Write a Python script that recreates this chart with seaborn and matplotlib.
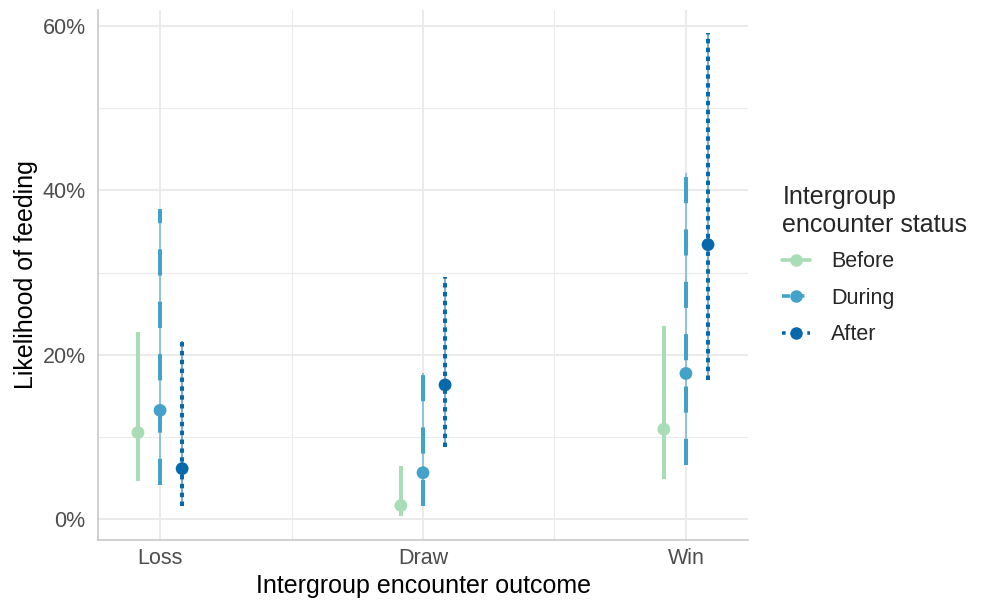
import numpy as np
import pandas as pd
import matplotlib
matplotlib.use("Agg")
import matplotlib.pyplot as plt
import seaborn as sns
from matplotlib.lines import Line2D
from matplotlib.ticker import FuncFormatter, MultipleLocator

# Данные (доли, читаются с картинки)
outcomes = ["Loss", "Draw", "Win"]
statuses = ["Before", "During", "After"]
est_before = [0.105, 0.016, 0.109]
low_before = [0.046, 0.003, 0.048]
high_before = [0.228, 0.064, 0.235]
est_during = [0.132, 0.056, 0.177]
low_during = [0.041, 0.015, 0.066]
high_during = [0.377, 0.178, 0.421]
est_after = [0.061, 0.163, 0.334]
low_after = [0.016, 0.087, 0.169]
high_after = [0.217, 0.294, 0.592]

colors = {"Before": "#a8ddb5", "During": "#43a2ca", "After": "#0868ac"}
dashes = {"Before": "solid", "During": (0, (6.5, 6.5)), "After": (0, (1.1, 1.1))}

rows = []
for s, e, lo, hi in zip(statuses,
                        [est_before, est_during, est_after],
                        [low_before, low_during, low_after],
                        [high_before, high_during, high_after]):
    for o, ev, lv, hv in zip(outcomes, e, lo, hi):
        rows.append({"outcome": o, "status": s, "est": ev, "low": lv, "high": hv})
df = pd.DataFrame(rows)

sns.set_theme(style="whitegrid")
plt.rcParams["font.family"] = ["Liberation Sans", "DejaVu Sans"]

fig, ax = plt.subplots(figsize=(9.84, 6.01), dpi=100)
fig.subplots_adjust(left=98 / 984, right=748 / 984, top=1 - 10 / 601, bottom=1 - 540 / 601)

offset = {"Before": -0.084, "During": 0.0, "After": 0.084}
df["x"] = df["outcome"].map({o: i for i, o in enumerate(outcomes)}) + df["status"].map(offset)

for s in statuses:
    d = df[df["status"] == s]
    ax.vlines(d["x"], d["low"], d["high"], color=colors[s], lw=1.1, alpha=0.7, zorder=2)
    ax.vlines(d["x"], d["low"], d["high"], color=colors[s], lw=2.9,
              linestyles=[dashes[s]], zorder=3)

sns.scatterplot(data=df, x="x", y="est", hue="status", palette=colors,
                s=85, edgecolor="none", legend=False, ax=ax, zorder=4)

ax.set_xlim(-0.236, 2.236)
ax.set_ylim(-0.026, 0.62)
ax.set_xticks(range(len(outcomes)))
ax.set_xticklabels(outcomes)
ax.xaxis.set_minor_locator(MultipleLocator(1, offset=0.5))
ax.yaxis.set_major_locator(MultipleLocator(0.2))
ax.yaxis.set_minor_locator(MultipleLocator(0.1, offset=0.1))
ax.yaxis.set_major_formatter(FuncFormatter(lambda v, p: f"{v * 100:.0f}%"))

ax.grid(which="major", color="#ebebeb", lw=1.4)
ax.grid(which="minor", color="#ebebeb", lw=0.8)
ax.set_axisbelow(True)
for side in ["top", "right"]:
    ax.spines[side].set_visible(False)
for side in ["left", "bottom"]:
    ax.spines[side].set_color("#c8c8c8")
    ax.spines[side].set_linewidth(1.2)
ax.tick_params(which="both", length=0, labelsize=15.5, labelcolor="#4d4d4d")
ax.tick_params(axis="y", pad=9)
ax.tick_params(axis="x", pad=6)

ax.set_xlabel("Intergroup encounter outcome", fontsize=18, color="black", labelpad=3)
ax.set_ylabel("Likelihood of feeding", fontsize=18, color="black", labelpad=3)

handles = [Line2D([0], [0], color=colors[s], lw=2.6, linestyle=dashes[s] if s != "During" else (0, (2.2, 1.8)),
                  marker="o", markersize=9, markeredgewidth=0) for s in statuses]
handles[2].set_linestyle((0, (1.0, 2.5)))
leg = fig.legend(handles, statuses, title="Intergroup\nencounter status",
                 loc="upper left", bbox_to_anchor=(763 / 984, 1 - 166 / 601),
                 frameon=False, fontsize=15.5, title_fontsize=18, handlelength=1.3,
                 labelspacing=0.72, handletextpad=0.95, alignment="left")
leg._legend_box.sep = 10

fig.savefig("out.png", dpi=100)
